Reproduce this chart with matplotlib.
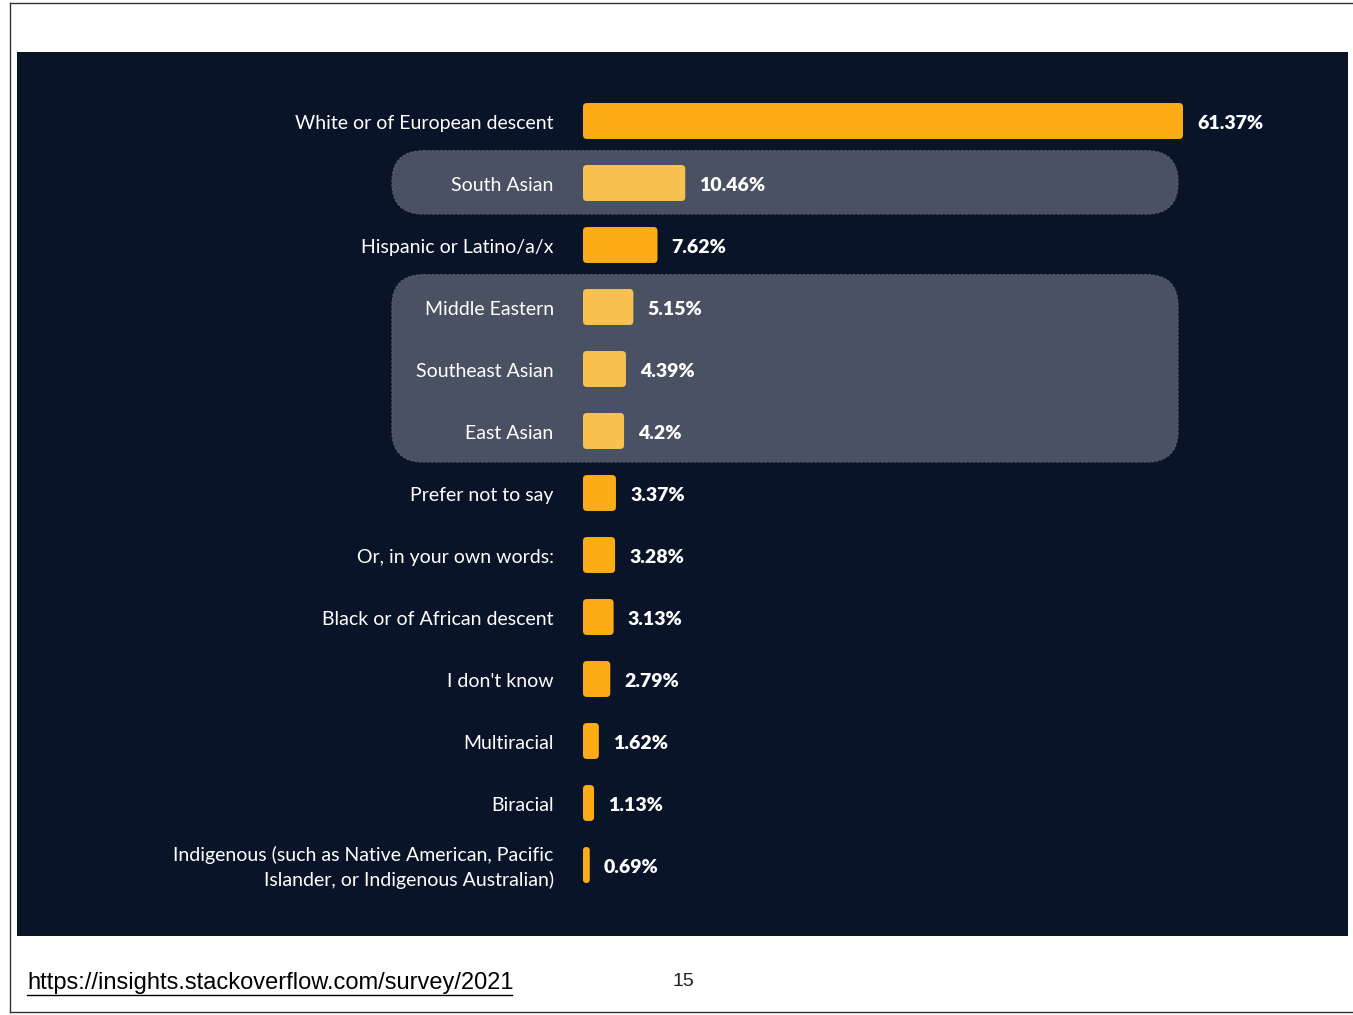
import matplotlib.pyplot as plt
from matplotlib.patches import FancyBboxPatch
from matplotlib.lines import Line2D

categories = [
    "White or of European descent",
    "South Asian",
    "Hispanic or Latino/a/x",
    "Middle Eastern",
    "Southeast Asian",
    "East Asian",
    "Prefer not to say",
    "Or, in your own words:",
    "Black or of African descent",
    "I don't know",
    "Multiracial",
    "Biracial",
    "Indigenous (such as Native American, Pacific\nIslander, or Indigenous Australian)",
]
values = [61.37, 10.46, 7.62, 5.15, 4.39, 4.2, 3.37, 3.28, 3.13, 2.79, 1.62, 1.13, 0.69]
value_labels = ["61.37%", "10.46%", "7.62%", "5.15%", "4.39%", "4.2%", "3.37%",
                "3.28%", "3.13%", "2.79%", "1.62%", "1.13%", "0.69%"]
highlight_groups = [(1, 1), (3, 5)]  # first and last row index of each highlighted group

W, H = 1353, 1015
BG = "#0a1429"
BAR = "#fcac14"
BAR_LIGHT = "#f9c150"
BOX = "#4a5162"

fig = plt.figure(figsize=(W / 100, H / 100), dpi=100)
fig.patch.set_facecolor("white")

# dark panel in pixel coordinates
px_l, px_r, px_t, px_b = 17, 1348, 52, 936
ax = fig.add_axes([px_l / W, 1 - px_b / H, (px_r - px_l) / W, (px_b - px_t) / H])
ax.set_facecolor(BG)
for s in ax.spines.values():
    s.set_visible(False)
ax.set_xticks([])
ax.set_yticks([])

x0_px, px_per_unit = 583, 600 / 61.37
row0_px, row_px = 121, 62
ax.set_xlim((px_l - x0_px) / px_per_unit, (px_r - x0_px) / px_per_unit)
ax.set_ylim((px_b - row0_px) / row_px, (px_t - row0_px) / row_px)
aspect = px_per_unit / row_px

# highlighted groups
box_l = (392 - x0_px) / px_per_unit
box_r = (1178 - x0_px) / px_per_unit
for a, b in highlight_groups:
    ax.add_patch(FancyBboxPatch((box_l, a - 0.52), box_r - box_l, b - a + 1.02,
                                boxstyle="round,pad=0,rounding_size=3.2",
                                mutation_aspect=aspect, facecolor=BOX,
                                edgecolor="#535a6b", linewidth=1.0,
                                linestyle=(0, (2, 1)), zorder=1))

highlighted = {i for a, b in highlight_groups for i in range(a, b + 1)}
bar_h = 0.58
dy = 0.035  # nudge text to optical centre
for i, (cat, v, lab) in enumerate(zip(categories, values, value_labels)):
    color = BAR_LIGHT if i in highlighted else BAR
    r = min(0.4, v / 2.2)
    ax.add_patch(FancyBboxPatch((0, i - bar_h / 2), v, bar_h,
                                boxstyle=f"round,pad=0,rounding_size={r}",
                                mutation_aspect=aspect, facecolor=color,
                                edgecolor="none", zorder=2))
    ax.text(-3.0, i + dy, cat, ha="right", va="center", color="white",
            fontsize=14, family="Lato", linespacing=1.45, zorder=3)
    ax.text(v + 1.45, i + dy, lab, ha="left", va="center", color="white",
            fontsize=14, family="Lato", fontweight="heavy", zorder=3)

# slide frame
fig.add_artist(Line2D([10 / W, 10 / W], [1 - 3 / H, 1 - 1012 / H], color="#333333", lw=1))
fig.add_artist(Line2D([10 / W, 1], [1 - 3 / H, 1 - 3 / H], color="#333333", lw=1))
fig.add_artist(Line2D([10 / W, 1], [1 - 1012 / H, 1 - 1012 / H], color="#333333", lw=1))

# footer
fig.text(27 / W, 1 - 983 / H, "https://insights.stackoverflow.com/survey/2021",
         ha="left", va="center", fontsize=17, family="Liberation Sans", color="black")
fig.add_artist(Line2D([27 / W, 512 / W], [1 - 995 / H, 1 - 995 / H], color="black", lw=1))
fig.text(683 / W, 1 - 982 / H, "15", ha="center", va="center", fontsize=14,
         family="Liberation Sans", color="#222222")

fig.savefig("out.png", dpi=100, facecolor=fig.get_facecolor())
